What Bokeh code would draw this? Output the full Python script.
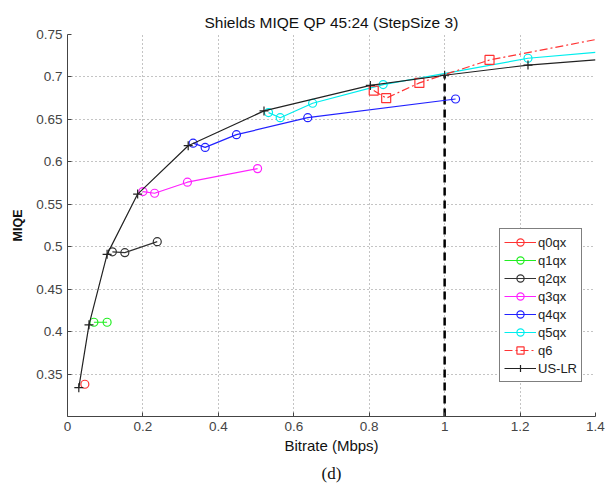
from bokeh.plotting import figure
from bokeh.models import Range1d, FixedTicker, Legend, LegendItem, Title
from bokeh.embed import file_html
from bokeh.resources import INLINE

# ---- data ----
q0_x = [0.046]
q0_y = [0.338]
q1_x = [0.070, 0.105]
q1_y = [0.411, 0.411]
q2_x = [0.119, 0.152, 0.238]
q2_y = [0.494, 0.493, 0.506]
q3_x = [0.200, 0.231, 0.318, 0.504]
q3_y = [0.565, 0.563, 0.576, 0.592]
q4_x = [0.333, 0.365, 0.448, 0.637, 1.029]
q4_y = [0.622, 0.617, 0.632, 0.652, 0.674]
q5_x = [0.533, 0.564, 0.650, 0.837, 1.221, 1.40]
q5_y = [0.658, 0.652, 0.669, 0.691, 0.722, 0.729]
q6_x = [0.812, 0.845, 0.933, 1.119, 1.40]
q6_y = [0.684, 0.675, 0.693, 0.720, 0.744]
uslr_x = [0.030, 0.057, 0.105, 0.186, 0.320, 0.521, 0.803, 1.000, 1.221, 1.40]
uslr_y = [0.334, 0.408, 0.491, 0.562, 0.619, 0.660, 0.690, 0.702, 0.714, 0.720]
cut_x = [1.0, 1.0]
cut_y = [0.30, 0.702]

x_ticks = [0, 0.2, 0.4, 0.6, 0.8, 1.0, 1.2, 1.4]
x_tick_labels = ["0", "0.2", "0.4", "0.6", "0.8", "1", "1.2", "1.4"]
y_ticks = [0.35, 0.4, 0.45, 0.5, 0.55, 0.6, 0.65, 0.7, 0.75]
y_tick_labels = ["0.35", "0.4", "0.45", "0.5", "0.55", "0.6", "0.65", "0.7", "0.75"]

FONT = "Liberation Sans"
X_MAX = 1.4

p = figure(width=613, height=491, output_backend="svg", toolbar_location=None,
           x_range=Range1d(0, X_MAX), y_range=Range1d(0.3, 0.75),
           min_border_left=67, min_border_right=18, min_border_top=34, min_border_bottom=75)
p.outline_line_color = None
p.background_fill_color = "white"
p.border_fill_color = "white"

p.title.text = "Shields MIQE QP 45:24 (StepSize 3)"
p.title.align = "center"
p.title.text_font = FONT
p.title.text_font_size = "15.5px"
p.title.text_font_style = "normal"
p.title.text_color = "#111111"
p.title.standoff = 8

# axes
p.xaxis.ticker = FixedTicker(ticks=x_ticks)
p.yaxis.ticker = FixedTicker(ticks=y_ticks)
p.xaxis.major_label_overrides = {t: l for t, l in zip(x_ticks, x_tick_labels)}
p.yaxis.major_label_overrides = {t: l for t, l in zip(y_ticks, y_tick_labels)}
for ax in (p.xaxis, p.yaxis):
    ax.major_tick_in = 4
    ax.major_tick_out = 0
    ax.minor_tick_line_color = None
    ax.axis_line_color = "#444444"
    ax.major_tick_line_color = "#444444"
    ax.major_label_text_font = FONT
    ax.major_label_text_font_size = "13.5px"
    ax.major_label_text_color = "#444444"
    ax.axis_label_text_font = FONT
    ax.axis_label_text_color = "#111111"
p.xaxis.axis_label = "Bitrate (Mbps)"
p.xaxis.axis_label_text_font_size = "15px"
p.xaxis.axis_label_text_font_style = "normal"
p.xaxis.axis_label_standoff = 3
p.xaxis.major_label_standoff = 5
p.yaxis.axis_label = "MIQE"
p.yaxis.axis_label_text_font_size = "12.5px"
p.yaxis.axis_label_text_font_style = "bold"
p.yaxis.axis_label_standoff = 8
p.yaxis.major_label_standoff = 5

p.grid.grid_line_color = "#888888"
p.grid.grid_line_dash = "1 3"
p.grid.grid_line_width = 1

# cut-off dashed line
p.line(cut_x, cut_y, line_color="black", line_width=2.5, line_dash="8 5")

items = []

def series(xs, ys, color, label, marker="circle", dash="solid", size=8):
    l = p.line(xs, ys, line_color=color, line_width=1.2, line_dash=dash)
    # points lying on the right frame edge are continuations clipped by the axes
    mx = [x for x in xs if x < X_MAX]
    my = [y for x, y in zip(xs, ys) if x < X_MAX]
    if marker == "cross":
        s = p.scatter(mx, my, marker="cross", size=size, line_color=color, line_width=1.2)
    else:
        s = p.scatter(mx, my, marker=marker, size=size, line_color=color,
                      fill_color=None, line_width=1.2)
    items.append(LegendItem(label=label, renderers=[l, s]))

series(q0_x, q0_y, "#ff3333", "q0qx")
series(q1_x, q1_y, "#22ee22", "q1qx")
series(q2_x, q2_y, "#333333", "q2qx")
series(q3_x, q3_y, "#ff22ff", "q3qx")
series(q4_x, q4_y, "#2222ff", "q4qx")
series(q5_x, q5_y, "#00eeee", "q5qx")
series(q6_x, q6_y, "#ff3333", "q6", marker="square", dash="8 3 2 3", size=9)
series(uslr_x, uslr_y, "#222222", "US-LR", marker="cross", size=9)

legend = Legend(items=items, location=(432, 34))
legend.label_text_font = FONT
legend.label_text_font_size = "13px"
legend.label_text_color = "#222222"
legend.glyph_width = 32
legend.glyph_height = 18
legend.label_height = 18
legend.spacing = 0
legend.padding = 4
legend.margin = 0
legend.label_standoff = 2
legend.border_line_color = "black"
legend.border_line_width = 1
legend.background_fill_color = "white"
legend.background_fill_alpha = 1
p.add_layout(legend, "center")

sub = Title(text="(d)", align="center", text_font="Liberation Serif",
            text_font_size="17px", text_font_style="normal", text_color="#111111")
p.add_layout(sub, "below")

open("out.html", "w").write(file_html(p, INLINE))
